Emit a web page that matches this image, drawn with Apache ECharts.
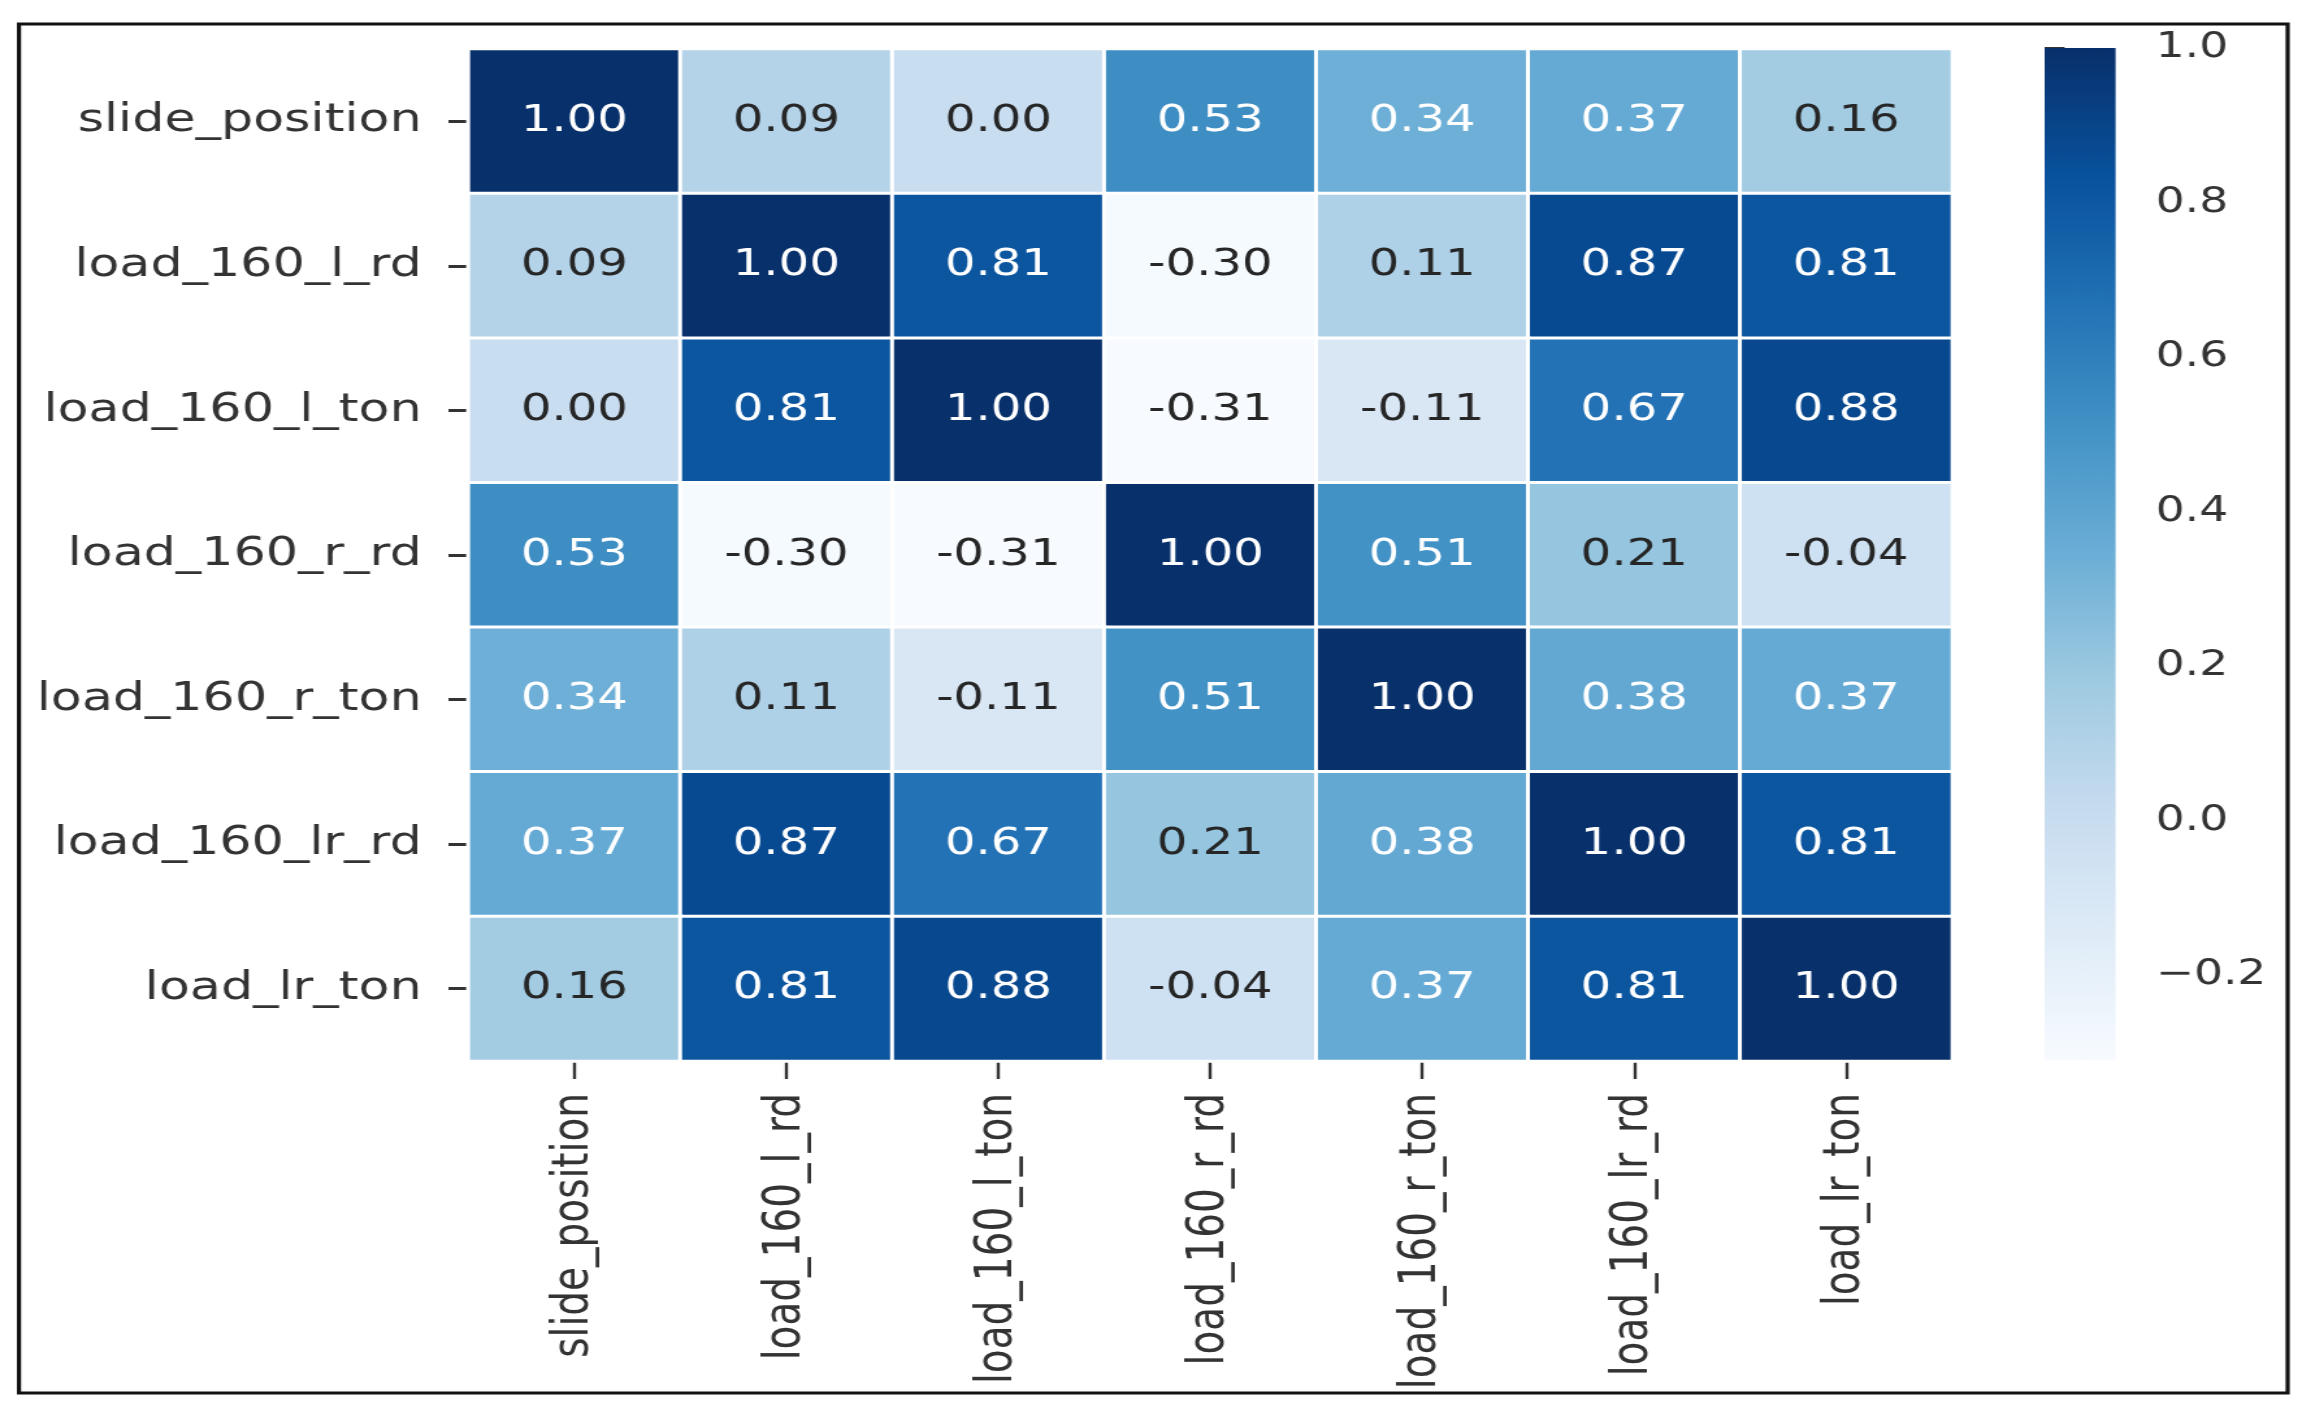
<!DOCTYPE html>
<html>
<head>
<meta charset="utf-8">
<script src="https://cdn.jsdelivr.net/npm/echarts@6/dist/echarts.min.js"></script>
<style>
  html, body { margin: 0; padding: 0; background: #fff; overflow: hidden; }
  #chart { width: 1778px; height: 1422px; transform: scaleX(1.2998); transform-origin: 0 0; }
</style>
</head>
<body>
<div id="chart"></div>
<script>
// ---------- data ----------
const labels = ['slide_position', 'load_160_l_rd', 'load_160_l_ton', 'load_160_r_rd', 'load_160_r_ton', 'load_160_lr_rd', 'load_lr_ton'];
const rowSlidePosition = [1.00, 0.09, 0.00, 0.53, 0.34, 0.37, 0.16];
const rowLoad160LRd    = [0.09, 1.00, 0.81, -0.30, 0.11, 0.87, 0.81];
const rowLoad160LTon   = [0.00, 0.81, 1.00, -0.31, -0.11, 0.67, 0.88];
const rowLoad160RRd    = [0.53, -0.30, -0.31, 1.00, 0.51, 0.21, -0.04];
const rowLoad160RTon   = [0.34, 0.11, -0.11, 0.51, 1.00, 0.38, 0.37];
const rowLoad160LrRd   = [0.37, 0.87, 0.67, 0.21, 0.38, 1.00, 0.81];
const rowLoadLrTon     = [0.16, 0.81, 0.88, -0.04, 0.37, 0.81, 1.00];
const colorbarTicks = [-0.2, 0.0, 0.2, 0.4, 0.6, 0.8, 1.0];
const vmin = -0.31, vmax = 1.0;
// ---------------------------

const rows = [rowSlidePosition, rowLoad160LRd, rowLoad160LTon, rowLoad160RRd, rowLoad160RTon, rowLoad160LrRd, rowLoadLrTon];
const blues = ['#f7fbff', '#deebf7', '#c6dbef', '#9ecae1', '#6baed6', '#4292c6', '#2171b5', '#08519c', '#08306b'];
const FONT = 'DejaVu Sans';
const TXT = '#333333';

function hexToRgb(h) { return [1, 3, 5].map(i => parseInt(h.substr(i, 2), 16)); }
function cmap(t) {
  t = Math.max(0, Math.min(1, t));
  const p = t * (blues.length - 1);
  const i = Math.min(Math.floor(p), blues.length - 2);
  const f = p - i;
  const a = hexToRgb(blues[i]), b = hexToRgb(blues[i + 1]);
  return a.map((c, k) => c + (b[k] - c) * f);
}
function lum(rgb) {
  const l = rgb.map(c => { c /= 255; return c <= 0.03928 ? c / 12.92 : Math.pow((c + 0.055) / 1.055, 2.4); });
  return 0.2126 * l[0] + 0.7152 * l[1] + 0.0722 * l[2];
}

const heatData = [];
rows.forEach((row, yi) => {
  row.forEach((v, xi) => {
    const rgb = cmap((v - vmin) / (vmax - vmin));
    heatData.push({
      value: [xi, yi, v],
      label: { color: lum(rgb) > 0.408 ? '#262626' : '#ffffff' }
    });
  });
});

const chart = echarts.init(document.getElementById('chart'), null, { width: 1778, height: 1422 });

const option = {
  backgroundColor: '#ffffff',
  animation: false,
  graphic: [{
    type: 'rect',
    shape: { x: 14.6, y: 24, width: 1745.4, height: 1369 },
    style: { fill: 'none', stroke: '#111111', lineWidth: 3.2 },
    z: 100
  }],
  grid: [
    { left: 360.4, top: 49, width: 1141.5, height: 1012 },
    { left: 1573, top: 48, width: 54.6, height: 1012 }
  ],
  xAxis: [
    {
      type: 'category', gridIndex: 0, data: labels, position: 'bottom',
      axisLine: { show: false },
      axisTick: { show: true, alignWithLabel: true, length: 18, lineStyle: { color: '#333', width: 2.4 } },
      axisLabel: { rotate: 90, interval: 0, fontSize: 39, fontFamily: FONT, color: TXT, margin: 32 },
      splitLine: { show: false }
    },
    { type: 'value', gridIndex: 1, min: 0, max: 1, show: false }
  ],
  yAxis: [
    {
      type: 'category', gridIndex: 0, data: labels, inverse: true,
      axisLine: { show: false },
      axisTick: { show: true, alignWithLabel: true, length: 15.4, lineStyle: { color: '#333', width: 3 } },
      axisLabel: { interval: 0, fontSize: 39, fontFamily: FONT, color: TXT, margin: 36 },
      splitLine: { show: false }
    },
    {
      type: 'value', gridIndex: 1, min: vmin, max: vmax, position: 'right',
      axisLine: { show: false },
      axisTick: { show: true, length: 15.4, customValues: colorbarTicks, lineStyle: { color: '#333', width: 3 } },
      axisLabel: {
        customValues: colorbarTicks, fontSize: 35, fontFamily: FONT, color: TXT, margin: 31,
        formatter: v => (v < 0 ? '\u2212' : '') + Math.abs(v).toFixed(1)
      },
      splitLine: { show: false }
    }
  ],
  visualMap: {
    type: 'continuous', show: false, seriesIndex: 0, dimension: 2,
    min: vmin, max: vmax, inRange: { color: blues }
  },
  series: [
    {
      type: 'heatmap', xAxisIndex: 0, yAxisIndex: 0, data: heatData,
      itemStyle: { borderColor: '#ffffff', borderWidth: 3 },
      label: {
        show: true, fontSize: 37, fontFamily: FONT,
        formatter: p => p.value[2].toFixed(2)
      },
      emphasis: { disabled: true }
    },
    {
      type: 'custom', xAxisIndex: 1, yAxisIndex: 1,
      data: [[0, 1, vmin, vmax]],
      renderItem: function (params, api) {
        const p1 = api.coord([api.value(0), api.value(3)]);
        const p2 = api.coord([api.value(1), api.value(2)]);
        const stops = blues.slice().reverse().map((c, i) => ({ offset: i / (blues.length - 1), color: c }));
        return {
          type: 'rect',
          shape: { x: p1[0], y: p1[1], width: p2[0] - p1[0], height: p2[1] - p1[1] },
          style: { fill: new echarts.graphic.LinearGradient(0, 0, 0, 1, stops) }
        };
      },
      silent: true
    }
  ]
};
chart.setOption(option);
</script>
</body>
</html>
